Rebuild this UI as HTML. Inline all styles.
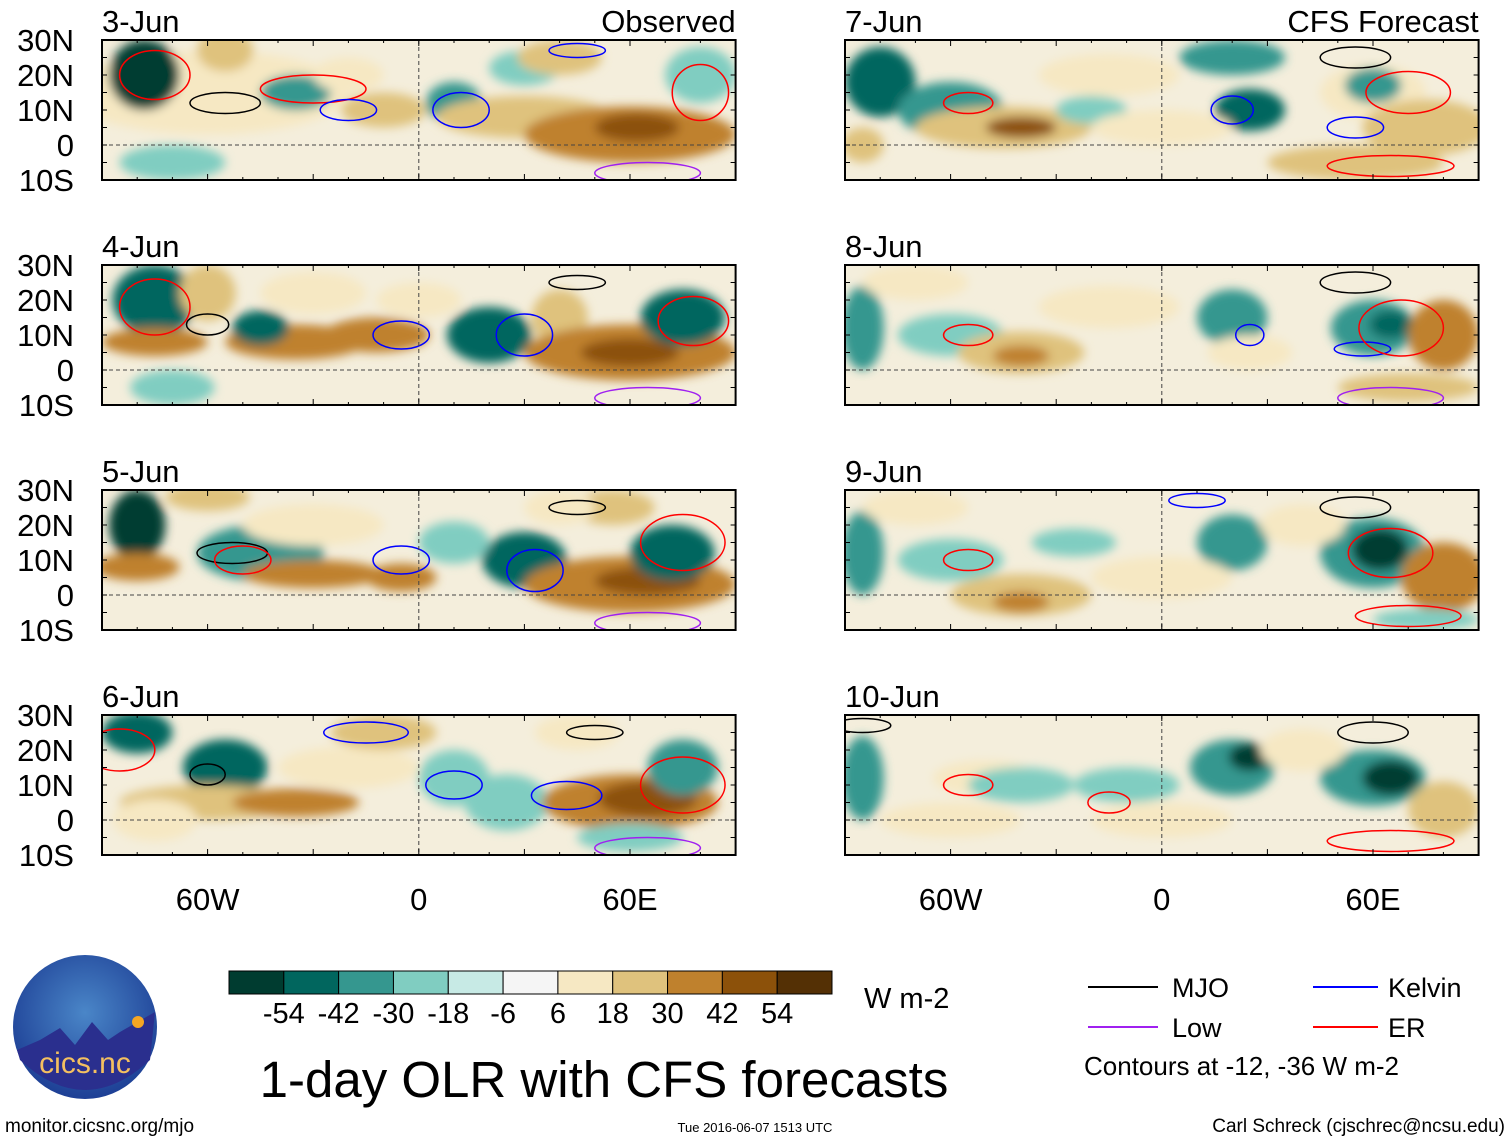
<!DOCTYPE html>
<html><head><meta charset="utf-8"><style>
body{margin:0;background:#fff;width:1510px;height:1142px;overflow:hidden;font-family:"Liberation Sans",sans-serif}
svg{display:block}
</style></head><body>
<svg id="chart" width="1510" height="1142" viewBox="0 0 1510 1142" xmlns="http://www.w3.org/2000/svg">
<defs>
<filter id="bl" x="-20%" y="-20%" width="140%" height="140%"><feGaussianBlur stdDeviation="5"/></filter>
<radialGradient id="lg" cx="50%" cy="40%" r="60%"><stop offset="0" stop-color="#4a86c8"/><stop offset="1" stop-color="#1d3f95"/></radialGradient>
</defs>
<g id="panels"></g>
<g id="cbar"></g>
<text x="864" y="1008" font-size="29">W m-2</text>
<text x="604" y="1097" font-size="51" text-anchor="middle">1-day OLR with CFS forecasts</text>
<g>
<line x1="1088" y1="987" x2="1158" y2="987" stroke="#000" stroke-width="2"/><text x="1172" y="997" font-size="27">MJO</text>
<line x1="1313" y1="987" x2="1378" y2="987" stroke="#00f" stroke-width="2"/><text x="1388" y="997" font-size="27">Kelvin</text>
<line x1="1088" y1="1027" x2="1158" y2="1027" stroke="#a020f0" stroke-width="2"/><text x="1172" y="1037" font-size="27">Low</text>
<line x1="1313" y1="1027" x2="1378" y2="1027" stroke="#f00" stroke-width="2"/><text x="1388" y="1037" font-size="27">ER</text>
<text x="1084" y="1075" font-size="26">Contours at -12, -36 W m-2</text>
</g>
<g>
<circle cx="85" cy="1027" r="72" fill="url(#lg)"/>
<path d="M17 1050 L40 1040 L60 1028 L75 1045 L92 1022 L108 1040 L120 1032 L155 1012 L150 1060 Q85 1120 20 1060Z" fill="#2a2f8e"/>
<circle cx="138" cy="1022" r="6" fill="#f5a623"/>
<text x="85" y="1073" font-size="30" fill="#f4c060" text-anchor="middle">cics.nc</text>
</g>
<text x="5" y="1132" font-size="19">monitor.cicsnc.org/mjo</text>
<text x="755" y="1132" font-size="13" text-anchor="middle">Tue 2016-06-07 1513 UTC</text>
<text x="1505" y="1132" font-size="19" text-anchor="end">Carl Schreck (cjschrec@ncsu.edu)</text>
</svg>
<script>
const levels=[-54,-42,-30,-18,-6,6,18,30,42,54];
const colors=["#003c30","#01665e","#35978f","#80cdc1","#c7eae5","#f5f5f5","#f6e8c3","#dfc27d","#bf812d","#8c510a","#543005"];
const dates=["3-Jun","4-Jun","5-Jun","6-Jun","7-Jun","8-Jun","9-Jun","10-Jun"];
const yTicks=[30,20,10,0,-10];
const yTickLabels=["30N","20N","10N","0","10S"];
const xTicks=[-60,0,60];
const xTickLabels=["60W","0","60E"];
// blobs: [lon, lat, rxDeg, ryDeg, value]
const blobs0=[[-60,15,40,12,18],[-78,20,10,10,-54],[-55,27,8,6,30],[-35,15,10,5,-30],[-10,10,12,5,30],[10,12,8,6,-30],[30,8,25,6,30],[30,22,10,5,-18],[60,3,30,8,42],[62,5,12,4,54],[40,25,12,5,30],[-70,-5,15,5,-18],[80,20,10,8,-18],[-20,20,10,5,18]];
const blobs1=[[-75,20,12,10,-42],[-75,8,15,4,42],[-35,8,20,5,42],[-60,22,8,8,30],[-45,12,8,5,-42],[-12,10,15,5,42],[20,10,12,8,-42],[40,15,8,8,30],[60,5,30,8,42],[60,5,14,4,54],[75,15,12,8,-42],[-30,22,15,6,18],[0,20,12,5,18],[-70,-5,12,5,-18]];
const blobs2=[[-80,20,8,10,-54],[-80,8,12,4,42],[-45,12,18,8,-30],[-30,6,20,4,42],[-5,5,10,4,42],[-30,20,20,6,18],[30,10,12,8,-42],[10,15,10,6,-18],[60,3,30,8,42],[65,4,15,4,54],[72,12,12,8,-42],[55,25,12,5,30],[-60,28,12,4,30],[40,25,10,5,18]];
const blobs3=[[-80,25,10,6,-42],[-55,15,12,8,-42],[-60,5,25,5,30],[-35,5,18,4,42],[-20,15,20,6,18],[10,12,10,8,-18],[25,5,12,8,-18],[60,5,25,8,42],[65,6,14,5,54],[75,15,10,8,-30],[-10,25,15,5,30],[45,25,12,5,18],[60,-5,15,4,-18],[-75,0,12,6,18]];
const blobs4=[[-80,18,10,10,-42],[-60,10,15,8,-30],[-45,5,25,6,30],[-40,5,10,3,54],[-15,20,20,6,18],[-20,10,10,4,-18],[20,25,15,5,-30],[25,10,10,6,-42],[60,15,15,8,18],[60,17,8,5,-30],[75,5,18,8,30],[55,-5,25,5,30],[-85,0,6,5,30],[0,5,20,5,18]];
const blobs5=[[-85,12,6,12,-30],[-60,10,15,6,-18],[-40,5,18,6,30],[-40,4,8,3,42],[-15,18,20,6,18],[20,15,10,8,-30],[25,5,12,5,18],[60,12,12,8,-30],[65,13,6,4,-42],[80,10,10,10,42],[70,-5,20,4,30],[-70,25,15,5,18]];
const blobs6=[[-85,12,6,12,-30],[-60,10,15,6,-18],[-40,0,20,6,30],[-40,-2,8,3,42],[-25,15,12,4,-18],[20,15,10,8,-30],[0,5,20,6,18],[60,12,15,10,-30],[62,13,8,6,-54],[80,5,12,10,42],[75,-7,15,3,-18],[40,20,12,6,18],[-70,25,15,5,18]];
const blobs7=[[-85,12,6,12,-30],[-50,12,15,5,18],[-40,10,15,5,-18],[-60,0,20,5,18],[20,15,12,8,-30],[25,18,6,4,-54],[60,12,15,8,-30],[65,12,8,5,-54],[80,3,10,8,30],[-10,10,15,5,-18],[40,20,12,6,18],[0,0,20,5,18]];
const panelBlobs=[blobs0,blobs1,blobs2,blobs3,blobs4,blobs5,blobs6,blobs7];
// contours: [lon, lat, rxDeg, ryDeg, type]
const conts0=[[-75,20,10,7,"ER"],[-55,12,10,3,"MJO"],[-30,16,15,4,"ER"],[-20,10,8,3,"Kelvin"],[12,10,8,5,"Kelvin"],[45,27,8,2,"Kelvin"],[80,15,8,8,"ER"],[65,-8,15,3,"Low"]];
const conts1=[[-75,18,10,8,"ER"],[-60,13,6,3,"MJO"],[-5,10,8,4,"Kelvin"],[30,10,8,6,"Kelvin"],[45,25,8,2,"MJO"],[78,14,10,7,"ER"],[65,-8,15,3,"Low"]];
const conts2=[[-53,12,10,3,"MJO"],[-50,10,8,4,"ER"],[-5,10,8,4,"Kelvin"],[33,7,8,6,"Kelvin"],[45,25,8,2,"MJO"],[75,15,12,8,"ER"],[65,-8,15,3,"Low"]];
const conts3=[[-60,13,5,3,"MJO"],[-85,20,10,6,"ER"],[-15,25,12,3,"Kelvin"],[10,10,8,4,"Kelvin"],[42,7,10,4,"Kelvin"],[50,25,8,2,"MJO"],[75,10,12,8,"ER"],[65,-8,15,3,"Low"]];
const conts4=[[-55,12,7,3,"ER"],[20,10,6,4,"Kelvin"],[55,5,8,3,"Kelvin"],[55,25,10,3,"MJO"],[70,15,12,6,"ER"],[65,-6,18,3,"ER"]];
const conts5=[[-55,10,7,3,"ER"],[25,10,4,3,"Kelvin"],[57,6,8,2,"Kelvin"],[55,25,10,3,"MJO"],[68,12,12,8,"ER"],[65,-8,15,3,"Low"]];
const conts6=[[-55,10,7,3,"ER"],[55,25,10,3,"MJO"],[65,12,12,7,"ER"],[70,-6,15,3,"ER"],[10,27,8,2,"Kelvin"]];
const conts7=[[-55,10,7,3,"ER"],[-15,5,6,3,"ER"],[60,25,10,3,"MJO"],[65,-6,18,3,"ER"],[-85,27,8,2,"MJO"]];
const panelConts=[conts0,conts1,conts2,conts3,conts4,conts5,conts6,conts7];
const ctype={MJO:"#000",Kelvin:"#00f",Low:"#a020f0",ER:"#f00"};
const NS="http://www.w3.org/2000/svg";
function mk(tag,attrs,parent){const e=document.createElementNS(NS,tag);for(const k in attrs)e.setAttribute(k,attrs[k]);parent.appendChild(e);return e;}
function colorFor(v){let i=0;while(i<levels.length&&v>levels[i])i++;return colors[i];}
const SX=3.52, SY=3.5;
const panelsG=document.getElementById('panels');
const lefts=[102,845], tops=[40,265,490,715];
dates.forEach((d,p)=>{
  const col=p<4?0:1,row=p%4;
  const x0=lefts[col],y0=tops[row],W=180*SX,H=40*SY;
  const xs=lon=>x0+(lon+90)*SX, ys=lat=>y0+(30-lat)*SY;
  const g=mk('g',{},panelsG);
  
  
  const cp=mk('clipPath',{id:'cp'+p},g);mk('rect',{x:x0,y:y0,width:W,height:H},cp);
  const inner=mk('g',{'clip-path':'url(#cp'+p+')'},g);
  mk('rect',{x:x0,y:y0,width:W,height:H,fill:"#f4eedc"},inner);
  const fg=mk('g',{filter:'url(#bl)'},inner);
  panelBlobs[p].forEach(b=>{
    const e=mk('ellipse',{cx:xs(b[0]),cy:ys(b[1]),rx:b[2]*SX,ry:b[3]*SY,fill:colorFor(b[4])},fg);
    
    
  });
  panelConts[p].forEach(c=>{
    const e=mk('ellipse',{cx:xs(c[0]),cy:ys(c[1]),rx:c[2]*SX,ry:c[3]*SY,fill:"none",stroke:ctype[c[4]],'stroke-width':1.5},inner);
    
    
  });
  mk('line',{x1:x0,x2:x0+W,y1:ys(0),y2:ys(0),stroke:"#444","stroke-dasharray":"4 3","stroke-width":1},inner);
  mk('line',{x1:xs(0),x2:xs(0),y1:y0,y2:y0+H,stroke:"#444","stroke-dasharray":"4 3","stroke-width":1},inner);
  mk('rect',{x:x0,y:y0,width:W,height:H,fill:"none",stroke:"#000","stroke-width":2},g);
  for(let lon=-90;lon<=90;lon+=10){const L=lon%30===0?6:3;mk('line',{x1:xs(lon),x2:xs(lon),y1:y0,y2:y0+L,stroke:"#000"},g);mk('line',{x1:xs(lon),x2:xs(lon),y1:y0+H,y2:y0+H-L,stroke:"#000"},g);}
  for(let lat=-10;lat<=30;lat+=5){mk('line',{x1:x0,x2:x0+5,y1:ys(lat),y2:ys(lat),stroke:"#000"},g);mk('line',{x1:x0+W,x2:x0+W-5,y1:ys(lat),y2:ys(lat),stroke:"#000"},g);}
  const t=mk('text',{x:x0,y:y0-8,'font-size':31},g);t.textContent=d;
  
  
  if(row===0){const t2=mk('text',{x:x0+W,y:y0-8,'font-size':31,'text-anchor':'end'},g);t2.textContent=col?'CFS Forecast':'Observed';
    
    }
  if(col===0){yTicks.forEach((lat,i)=>{const yt=mk('text',{x:74,y:ys(lat)+11,'font-size':31,'text-anchor':'end'},g);yt.textContent=yTickLabels[i];
    
    });}
  if(row===3){xTicks.forEach((lon,i)=>{const xt=mk('text',{x:xs(lon),y:910,'font-size':31,'text-anchor':'middle'},g);xt.textContent=xTickLabels[i];
    
    });}
});
const cb=document.getElementById('cbar');
const bw=(832-229)/colors.length;
colors.forEach((c,i)=>{const r=mk('rect',{x:229+i*bw,y:971,width:bw,height:23,fill:c,stroke:"#000","stroke-width":1},cb);
  
  });
levels.forEach((v,i)=>{const t=mk('text',{x:229+(i+1)*bw,y:1023,'font-size':29,'text-anchor':'middle'},cb);t.textContent=v;
  
  });
</script>
</body></html>
